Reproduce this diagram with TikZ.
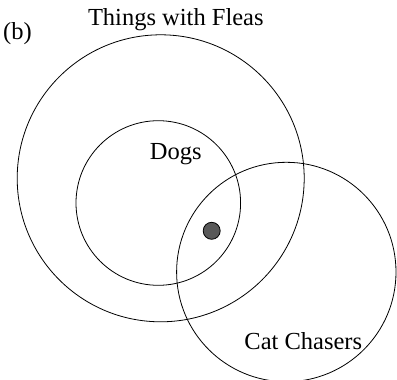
\documentclass[tikz,border=0pt]{standalone}
\usepackage{fontspec}
\setmainfont{Liberation Serif}
\usepackage{tikz}
\usetikzlibrary{positioning}

\begin{document}
\begin{tikzpicture}[
    x=1pt, y=-1pt,
    set/.style={circle, draw, line width=0.8pt, inner sep=0pt},
    dot/.style={circle, draw, line width=0.8pt, fill=black!65, inner sep=0pt, minimum size=17pt},
    label/.style={font=\fontsize{24.5}{28}\selectfont, inner sep=0pt}
]
\useasboundingbox (0,0) rectangle (397,380);

\node[set, minimum size=287pt] (fleas) at (160.7,178.3) {};
\node[set, minimum size=164.6pt] (dogs) at (158.3,203) {};
\node[set, minimum size=219.4pt] (cats) at (286.3,272) {};
\node[dot] (member) at (211.7,230.8) {};

\node[label] (fleastext) at (175.8,19.5) {Things with Fleas};
\node[label] (dogstext) at (175.8,154) {Dogs};
\node[label] (catstext) at (303.3,341) {Cat Chasers};
\node[label] (part) at (17.5,34) {(b)};

\end{tikzpicture}
\end{document}
